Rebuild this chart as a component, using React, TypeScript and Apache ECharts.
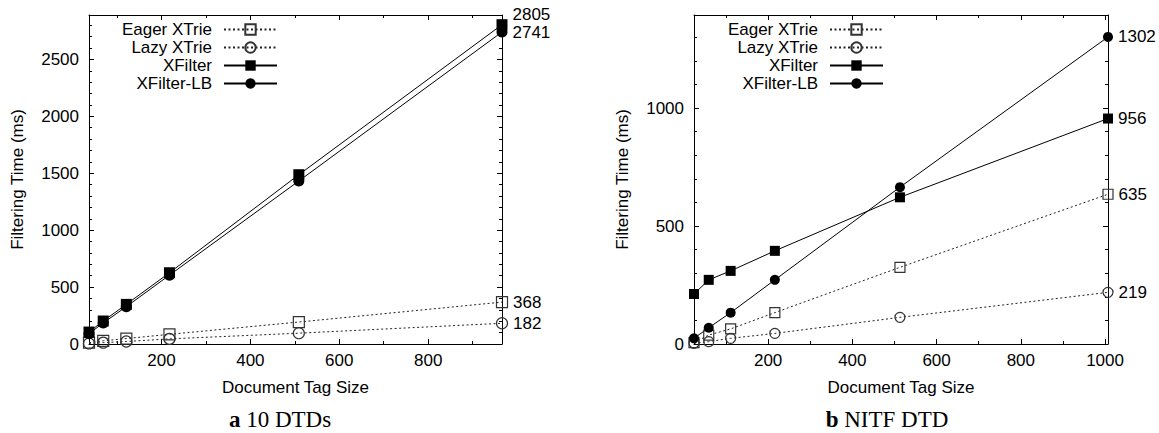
import React, { useEffect, useRef } from "react";
import * as echarts from "echarts";

// ---------- data ----------
const SERIES_NAMES = ["Eager XTrie", "Lazy XTrie", "XFilter", "XFilter-LB"];

// (a) 10 DTDs
const A_TAG_SIZE = [37, 69, 121, 218, 509, 966];
const A_EAGER = [12, 28, 48, 85, 193, 368];
const A_LAZY = [5, 12, 22, 45, 95, 182];
const A_XFILTER = [105, 202, 348, 626, 1487, 2805];
const A_XFILTER_LB = [90, 185, 328, 605, 1432, 2741];

// (b) NITF DTD
const B_TAG_SIZE = [24, 59, 111, 216, 513, 1007];
const B_EAGER = [6, 38, 64, 133, 325, 635];
const B_LAZY = [3, 10, 24, 45, 113, 219];
const B_XFILTER = [212, 272, 310, 395, 622, 956];
const B_XFILTER_LB = [24, 69, 133, 272, 665, 1302];

// tick values
const A_X_MAJOR = [200, 400, 600, 800];
const A_X_MINOR = [100, 300, 500, 700, 900];
const A_Y_MAJOR = [0, 500, 1000, 1500, 2000, 2500];
const A_Y_MINOR = [100, 200, 300, 400, 600, 700, 800, 900, 1100, 1200, 1300, 1400, 1600, 1700, 1800, 1900, 2100, 2200, 2300, 2400, 2600, 2700, 2800];
const A_Y_MAX = 2890;

const B_X_MAJOR = [200, 400, 600, 800, 1000];
const B_X_MINOR = [100, 300, 500, 700, 900];
const B_Y_MAJOR = [0, 500, 1000];
const B_Y_MINOR = [100, 200, 300, 400, 600, 700, 800, 900, 1100, 1200, 1300];
const B_Y_MAX = 1395;

const CAPTIONS = [
  { bold: "a", rest: " 10 DTDs" },
  { bold: "b", rest: " NITF DTD" },
];

// ---------- styling ----------
const FONT = "'Liberation Sans', Arial, Helvetica, sans-serif";
const FS = 17;
const plain = (v: number) => String(v);

function xAxes(gridIndex: number, min: number, max: number, major: number[], minor: number[]) {
  const base = {
    type: "value",
    gridIndex,
    min,
    max,
    splitLine: { show: false },
    axisLine: { show: false, onZero: false, lineStyle: { color: "#000", width: 1 } },
  };
  return [
    {
      ...base,
      position: "bottom",
      axisLine: { show: true, onZero: false, lineStyle: { color: "#000", width: 1 } },
      axisTick: { show: true, inside: true, length: 5, customValues: major, lineStyle: { color: "#000" } },
      axisLabel: { show: true, customValues: major, formatter: plain, margin: 8, fontSize: FS, fontFamily: FONT, color: "#000" },
      name: "Document Tag Size",
      nameLocation: "middle",
      nameGap: 35,
      nameMoveOverlap: false,
      nameTextStyle: { fontSize: FS, fontFamily: FONT, color: "#000" },
    },
    {
      ...base,
      position: "bottom",
      axisTick: { show: true, inside: true, length: 3, customValues: minor, lineStyle: { color: "#000" } },
      axisLabel: { show: false },
    },
    {
      ...base,
      position: "top",
      axisLine: { show: true, onZero: false, lineStyle: { color: "#000", width: 1 } },
      axisTick: { show: true, inside: true, length: 5, customValues: major, lineStyle: { color: "#000" } },
      axisLabel: { show: false },
    },
    {
      ...base,
      position: "top",
      axisTick: { show: true, inside: true, length: 3, customValues: minor, lineStyle: { color: "#000" } },
      axisLabel: { show: false },
    },
  ];
}

function yAxes(gridIndex: number, max: number, major: number[], minor: number[]) {
  const base = {
    type: "value",
    gridIndex,
    min: 0,
    max,
    splitLine: { show: false },
    axisLine: { show: false, onZero: false, lineStyle: { color: "#000", width: 1 } },
  };
  return [
    {
      ...base,
      position: "left",
      axisLine: { show: true, onZero: false, lineStyle: { color: "#000", width: 1 } },
      axisTick: { show: true, inside: true, length: 5, customValues: major, lineStyle: { color: "#000" } },
      axisLabel: { show: true, customValues: major, formatter: plain, margin: 10, fontSize: FS, fontFamily: FONT, color: "#000" },
      name: "Filtering Time (ms)",
      nameLocation: "middle",
      nameGap: 63,
      nameMoveOverlap: false,
      nameTextStyle: { fontSize: FS, fontFamily: FONT, color: "#000" },
    },
    {
      ...base,
      position: "left",
      axisTick: { show: true, inside: true, length: 3, customValues: minor, lineStyle: { color: "#000" } },
      axisLabel: { show: false },
    },
    {
      ...base,
      position: "right",
      axisLine: { show: true, onZero: false, lineStyle: { color: "#000", width: 1 } },
      axisTick: { show: true, inside: true, length: 5, customValues: major, lineStyle: { color: "#000" } },
      axisLabel: { show: false },
    },
    {
      ...base,
      position: "right",
      axisTick: { show: true, inside: true, length: 3, customValues: minor, lineStyle: { color: "#000" } },
      axisLabel: { show: false },
    },
  ];
}

const STYLES: Record<string, any> = {
  "Eager XTrie": {
    symbol: "rect",
    itemStyle: { color: "transparent", borderColor: "#333", borderWidth: 1.2 },
    lineStyle: { color: "#222", width: 1, type: [2, 2.5] },
  },
  "Lazy XTrie": {
    symbol: "circle",
    itemStyle: { color: "transparent", borderColor: "#333", borderWidth: 1.2 },
    lineStyle: { color: "#222", width: 1, type: [2, 2.5] },
  },
  XFilter: {
    symbol: "rect",
    itemStyle: { color: "#000", borderColor: "#000", borderWidth: 0 },
    lineStyle: { color: "#000", width: 1, type: "solid" },
  },
  "XFilter-LB": {
    symbol: "circle",
    itemStyle: { color: "#000", borderColor: "#000", borderWidth: 0 },
    lineStyle: { color: "#000", width: 1, type: "solid" },
  },
};

function makeSeries(
  name: string,
  xs: number[],
  ys: number[],
  axisBase: number,
  symbolSize: number,
  endOffset: number[]
) {
  const last = xs.length - 1;
  return {
    type: "line",
    name,
    xAxisIndex: axisBase,
    yAxisIndex: axisBase,
    clip: false,
    symbolSize,
    ...STYLES[name],
    emphasis: { disabled: true },
    data: xs.map((x, i) =>
      i === last
        ? {
            value: [x, ys[i]],
            label: {
              show: true,
              position: "right",
              distance: 5,
              offset: endOffset,
              formatter: String(ys[i]),
              fontSize: FS,
              lineHeight: 13,
              fontFamily: FONT,
              color: "#000",
            },
          }
        : { value: [x, ys[i]] }
    ),
  };
}

function legendFor(right: number) {
  return {
    data: SERIES_NAMES,
    orient: "vertical",
    align: "right",
    right,
    top: 21,
    padding: 0,
    itemWidth: 53,
    itemHeight: 13,
    itemGap: 1,
    selectedMode: false,
    textStyle: {
      fontSize: FS,
      fontFamily: FONT,
      color: "#000",
      width: 110,
      align: "right",
      lineHeight: 16,
      padding: [0, 7, 0, 0],
    },
  };
}

export default function App() {
  const ref = useRef<HTMLDivElement>(null);

  useEffect(() => {
    if (!ref.current) return;
    const chart = echarts.init(ref.current, undefined, { renderer: "svg" });

    const option: any = {
      animation: false,
      backgroundColor: "#fff",
      grid: [
        { left: 89, right: 1159 - 502, top: 15, bottom: 433 - 344, containLabel: false, outerBoundsMode: "none" },
        { left: 694, right: 1159 - 1108, top: 15, bottom: 433 - 344, containLabel: false, outerBoundsMode: "none" },
      ],
      xAxis: [
        ...xAxes(0, A_TAG_SIZE[0], A_TAG_SIZE[A_TAG_SIZE.length - 1], A_X_MAJOR, A_X_MINOR),
        ...xAxes(1, B_TAG_SIZE[0], B_TAG_SIZE[B_TAG_SIZE.length - 1], B_X_MAJOR, B_X_MINOR),
      ],
      yAxis: [
        ...yAxes(0, A_Y_MAX, A_Y_MAJOR, A_Y_MINOR),
        ...yAxes(1, B_Y_MAX, B_Y_MAJOR, B_Y_MINOR),
      ],
      legend: [legendFor(1159 - 278), legendFor(1159 - 884)],
      series: [
        makeSeries("Eager XTrie", A_TAG_SIZE, A_EAGER, 0, 11, [0, 0]),
        makeSeries("Lazy XTrie", A_TAG_SIZE, A_LAZY, 0, 11, [0, 0]),
        makeSeries("XFilter", A_TAG_SIZE, A_XFILTER, 0, 11, [0, -10]),
        makeSeries("XFilter-LB", A_TAG_SIZE, A_XFILTER_LB, 0, 11, [0, 1]),
        makeSeries("Eager XTrie", B_TAG_SIZE, B_EAGER, 4, 10, [0, 0]),
        makeSeries("Lazy XTrie", B_TAG_SIZE, B_LAZY, 4, 10, [0, 0]),
        makeSeries("XFilter", B_TAG_SIZE, B_XFILTER, 4, 10, [0, 0]),
        makeSeries("XFilter-LB", B_TAG_SIZE, B_XFILTER_LB, 4, 10, [0, 0]),
      ],
      graphic: CAPTIONS.map((c, i) => ({
        type: "text",
        silent: true,
        style: {
          x: i === 0 ? 280 : 887,
          y: 419,
          text: `{b|${c.bold}}{n|${c.rest}}`,
          align: "center",
          verticalAlign: "middle",
          fill: "#000",
          fontSize: 23,
          fontFamily: "'Liberation Serif', 'Times New Roman', serif",
          rich: {
            b: { fontWeight: "bold", fontSize: 23, fontFamily: "'Liberation Serif', 'Times New Roman', serif", fill: "#000" },
            n: { fontWeight: "normal", fontSize: 23, fontFamily: "'Liberation Serif', 'Times New Roman', serif", fill: "#000" },
          },
        },
      })),
    };

    chart.setOption(option);
    return () => chart.dispose();
  }, []);

  return (
    <div
      ref={ref}
      style={{ position: "fixed", left: 0, top: 0, width: 1159, height: 433, background: "#fff" }}
    />
  );
}
